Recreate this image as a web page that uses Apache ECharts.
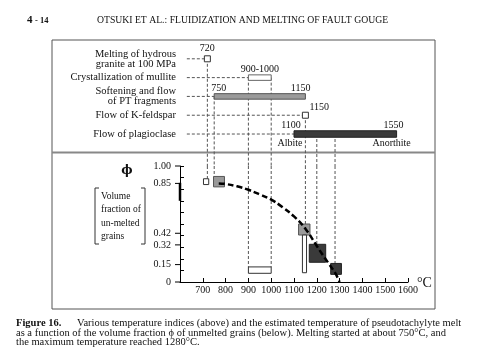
<!DOCTYPE html>
<html><head><meta charset="utf-8">
<script src="https://cdn.jsdelivr.net/npm/echarts@6/dist/echarts.min.js"></script>
<style>html,body{margin:0;padding:0;background:#fff}#c{width:480px;height:360px}</style>
</head><body><div id="c"></div>
<script>
// ---- data ----
const rowLabels = ['Melting of hydrous\ngranite at 100 MPa', 'Crystallization of mullite', 'Softening and flow\nof PT fragments', 'Flow of K-feldspar', 'Flow of plagioclase'];
const rowStart = [720, 900, 750, 1150, 1100];
const rowEnd = [720, 1000, 1150, 1150, 1550];
const rowStartText = ['720', '900-1000', '750', '1150', '1100'];
const rowEndText = ['', '', '1150', '', '1550'];
const plagEndText = ['Albite', 'Anorthite'];

const linkTemp = [720, 750, 900, 1000, 1150, 1200, 1280];
const linkRow = [0, 2, 1, 1, 3, 4, 4];
const linkPhi = [0.89, 0.91, 0.13, 0.13, 0.50, 0.325, 0.16];

const boxT0 = [703, 747, 900, 1120, 1137, 1167, 1261];
const boxT1 = [726, 795, 1000, 1170, 1155, 1239, 1308];
const boxP0 = [0.84, 0.82, 0.075, 0.405, 0.08, 0.17, 0.066];
const boxP1 = [0.89, 0.91, 0.13, 0.50, 0.405, 0.325, 0.16];
const boxKind = ['open', 'soft', 'open', 'soft', 'open', 'flow', 'flow'];

const meltT = [770, 800, 850, 900, 950, 1000, 1050, 1100, 1150, 1200, 1250, 1280, 1300];
const meltPhi = [0.85, 0.845, 0.825, 0.795, 0.755, 0.71, 0.645, 0.565, 0.46, 0.31, 0.165, 0.08, 0.0];

const phiTickLabels = [0, 0.15, 0.32, 0.42, 0.85, 1.00];
const phiRangeBand = [0.70, 0.855];

// ---- chart ----
const FONT = '"Liberation Serif", "DejaVu Serif", serif';
const chart = echarts.init(document.getElementById('c'));
const guideFrom = 630;

function txt(x, y, text, size, align, valign, weight, family) {
  return {type: 'text', x: x, y: y, style: {text: text, fontFamily: family || FONT, fontSize: size, fontWeight: weight || 'normal',
    fill: '#111', align: align, textAlign: align, verticalAlign: valign, textVerticalAlign: valign}};
}

const kindStyle = {
  open: {fill: '#fff', stroke: '#333', lineWidth: 1},
  soft: {fill: '#9a9a9a', stroke: '#555', lineWidth: 1},
  flow: {fill: '#3a3a3a', stroke: '#222', lineWidth: 1}
};
const rowStyle = [kindStyle.open, {fill: '#fff', stroke: '#666', lineWidth: 1}, kindStyle.soft, kindStyle.open, kindStyle.flow];
const dashStyle = {stroke: '#555', lineWidth: 1, lineDash: [3, 2]};

const option = {
  animation: false,
  textStyle: {fontFamily: FONT},
  grid: [
    {left: 180, right: 72, top: 40, height: 126},
    {left: 180, right: 72, top: 166, height: 116}
  ],
  xAxis: [
    {gridIndex: 0, type: 'value', min: 600, max: 1600, show: false},
    {gridIndex: 1, type: 'value', min: 600, max: 1600, interval: 100,
      axisLine: {lineStyle: {color: '#000', width: 1}},
      axisTick: {inside: true, length: 4, lineStyle: {color: '#000'}},
      splitLine: {show: false},
      axisLabel: {formatter: v => v === 600 ? '' : String(v), fontSize: 10, color: '#111', margin: 3, fontFamily: FONT}}
  ],
  yAxis: [
    {gridIndex: 0, type: 'value', inverse: true, min: -1, max: 5.7, interval: 1,
      axisLine: {show: false}, axisTick: {show: false}, splitLine: {show: false},
      axisLabel: {formatter: v => {const r = Math.round(v); return (Math.abs(v - r) < 1e-6 && rowLabels[r]) ? rowLabels[r] : '';},
        align: 'right', margin: 4, fontSize: 10.5, lineHeight: 10, color: '#111', fontFamily: FONT}},
    {gridIndex: 1, type: 'value', min: 0, max: 1, interval: 0.1,
      axisLine: {show: true, lineStyle: {color: '#000'}},
      axisTick: {inside: true, length: 4, lineStyle: {color: '#000'}},
      axisLabel: {show: false}, splitLine: {show: false}},
    {gridIndex: 1, type: 'value', min: 0, max: 1, interval: 0.01, position: 'left',
      axisLine: {show: false}, axisTick: {show: false}, splitLine: {show: false},
      axisLabel: {formatter: v => {const m = phiTickLabels.find(p => Math.abs(p - v) < 1e-6); return m === undefined ? '' : (m === 0 ? '0' : m.toFixed(2));},
        margin: 9, fontSize: 10, color: '#111', fontFamily: FONT}}
  ],
  series: [
    {type: 'custom', xAxisIndex: 0, yAxisIndex: 0, z: 1, silent: true,
      data: rowStart.map((s, i) => [s, i]),
      renderItem: (params, api) => {
        const a = api.coord([guideFrom, api.value(1)]), b = api.coord([api.value(0), api.value(1)]);
        return {type: 'line', shape: {x1: a[0], y1: a[1], x2: b[0], y2: b[1]}, style: dashStyle};
      }},
    {type: 'custom', xAxisIndex: 0, yAxisIndex: 0, z: 1, silent: true,
      data: linkTemp.map((t, i) => [t, linkRow[i]]),
      renderItem: (params, api) => {
        const a = api.coord([api.value(0), api.value(1)]), b = api.coord([api.value(0), 5.7]);
        return {type: 'line', shape: {x1: a[0], y1: a[1], x2: b[0], y2: b[1]}, style: dashStyle};
      }},
    {type: 'custom', xAxisIndex: 1, yAxisIndex: 1, z: 1, silent: true,
      data: linkTemp.map((t, i) => [t, linkPhi[i]]),
      renderItem: (params, api) => {
        const a = api.coord([api.value(0), 1]), b = api.coord([api.value(0), api.value(1)]);
        return {type: 'line', shape: {x1: a[0], y1: a[1], x2: b[0], y2: b[1]}, style: dashStyle};
      }},
    {type: 'custom', xAxisIndex: 0, yAxisIndex: 0, z: 3, silent: true,
      data: rowStart.map((s, i) => [s, rowEnd[i], i]),
      renderItem: (params, api) => {
        const i = params.dataIndex;
        const s = api.value(0), e = api.value(1), r = api.value(2);
        const p0 = api.coord([s, r]), p1 = api.coord([e, r]);
        const ch = [];
        if (s === e) {
          ch.push({type: 'rect', shape: {x: p0[0] - 3, y: p0[1] - 3, width: 6, height: 6}, style: rowStyle[i]});
          if (i === 0) ch.push(txt(p0[0], p0[1] - 5, rowStartText[i], 10, 'center', 'bottom'));
          else ch.push(txt(p0[0] + 4, p0[1] - 3, rowStartText[i], 10, 'left', 'bottom'));
        } else {
          const h = i === 4 ? 6.5 : 5.5;
          ch.push({type: 'rect', shape: {x: p0[0], y: p0[1] - h / 2, width: p1[0] - p0[0], height: h}, style: rowStyle[i]});
          if (i === 1) {
            ch.push(txt((p0[0] + p1[0]) / 2, p0[1] - 3, rowStartText[i], 10, 'center', 'bottom'));
          } else if (i === 2) {
            ch.push(txt(p0[0] - 3, p0[1] - 3, rowStartText[i], 10, 'left', 'bottom'));
            ch.push(txt(p1[0] + 5, p1[1] - 3, rowEndText[i], 10, 'right', 'bottom'));
          } else {
            ch.push(txt(p0[0] - 3, p0[1] - 3.5, rowStartText[i], 10, 'center', 'bottom'));
            ch.push(txt(p1[0] - 3, p1[1] - 3.5, rowEndText[i], 10, 'center', 'bottom'));
            ch.push(txt(p0[0] - 4, p0[1] + 4, plagEndText[0], 10, 'center', 'top'));
            ch.push(txt(p1[0] - 5, p1[1] + 4, plagEndText[1], 10, 'center', 'top'));
          }
        }
        return {type: 'group', children: ch};
      }},
    {type: 'custom', xAxisIndex: 1, yAxisIndex: 1, z: 3, silent: true,
      data: boxT0.map((t, i) => [t, boxT1[i], boxP0[i], boxP1[i]]),
      renderItem: (params, api) => {
        const a = api.coord([api.value(0), api.value(2)]), b = api.coord([api.value(1), api.value(3)]);
        return {type: 'rect', shape: {x: a[0], y: b[1], width: b[0] - a[0], height: a[1] - b[1]}, style: kindStyle[boxKind[params.dataIndex]]};
      }},
    {type: 'custom', xAxisIndex: 1, yAxisIndex: 1, z: 3, silent: true,
      data: phiTickLabels.map(v => [600, v]),
      renderItem: (params, api) => {
        const a = api.coord([api.value(0), api.value(1)]);
        return {type: 'line', shape: {x1: a[0] - 5, y1: a[1], x2: a[0], y2: a[1]}, style: {stroke: '#000', lineWidth: 1}};
      }},
    {type: 'custom', xAxisIndex: 1, yAxisIndex: 1, z: 3, silent: true,
      data: [[600, phiRangeBand[0], phiRangeBand[1]]],
      renderItem: (params, api) => {
        const a = api.coord([api.value(0), api.value(1)]), b = api.coord([api.value(0), api.value(2)]);
        return {type: 'line', shape: {x1: a[0], y1: a[1], x2: b[0], y2: b[1]}, style: {stroke: '#000', lineWidth: 2.5}};
      }},
    {type: 'line', xAxisIndex: 1, yAxisIndex: 1, z: 5, silent: true, smooth: 0.4, symbol: 'none',
      data: meltT.map((t, i) => [t, meltPhi[i]]),
      lineStyle: {color: '#000', width: 2.5, type: [6, 3]}}
  ],
  graphic: [
    {type: 'rect', shape: {x: 52, y: 40, width: 383, height: 269}, style: {fill: 'none', stroke: '#555', lineWidth: 1}, z: 0},
    {type: 'line', shape: {x1: 52, y1: 152.5, x2: 435, y2: 152.5}, style: {stroke: '#888', lineWidth: 2}, z: 0},
    txt(27, 20, '4', 11, 'left', 'middle', 'bold'),
    txt(35, 20.5, '- 14', 8.5, 'left', 'middle', 'bold'),
    txt(97, 20, 'OTSUKI ET AL.: FLUIDIZATION AND MELTING OF FAULT GOUGE', 9.7, 'left', 'middle'),
    txt(127, 171, 'ϕ', 12, 'center', 'middle', 'bold', '"DejaVu Serif", serif'),
    {type: 'polyline', shape: {points: [[99, 188], [95, 188], [95, 244], [99, 244]]}, style: {stroke: '#333', fill: 'none', lineWidth: 1}},
    {type: 'polyline', shape: {points: [[141, 188], [145, 188], [145, 244], [141, 244]]}, style: {stroke: '#333', fill: 'none', lineWidth: 1}},
    txt(101, 196, 'Volume', 9.5, 'left', 'middle'),
    txt(101, 209.5, 'fraction of', 9.5, 'left', 'middle'),
    txt(101, 223, 'un-melted', 9.5, 'left', 'middle'),
    txt(101, 236.5, 'grains', 9.5, 'left', 'middle'),
    txt(417, 283, '°C', 14, 'left', 'middle'),
    txt(16, 323.5, 'Figure 16.', 10.5, 'left', 'middle', 'bold'),
    txt(77, 323.5, 'Various temperature indices (above) and the estimated temperature of pseudotachylyte melt', 10.5, 'left', 'middle'),
    txt(16, 333, 'as a function of the volume fraction ϕ of unmelted grains (below). Melting started at about 750°C, and', 10.5, 'left', 'middle'),
    txt(16, 342.5, 'the maximum temperature reached 1280°C.', 10.5, 'left', 'middle')
  ]
};
chart.setOption(option);
</script></body></html>
